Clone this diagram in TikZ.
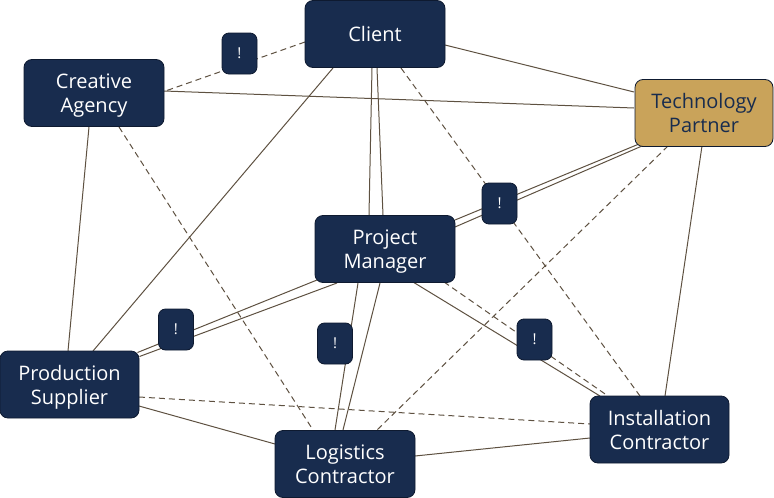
\documentclass[tikz,border=0pt]{standalone}
\usepackage{fontspec}
\setmainfont{Open Sans}
\usetikzlibrary{backgrounds}

\definecolor{navy}{HTML}{182C4E}
\definecolor{gold}{HTML}{C9A35A}
\definecolor{edgebrown}{HTML}{5E5141}
\definecolor{rim}{HTML}{0E1A30}

\tikzset{
	party/.style={draw=rim, line width=0.8pt, fill=navy, text=white, rounded corners=8pt,
		minimum width=140pt, minimum height=67pt, align=center, inner sep=0pt, text depth=0pt,
		font=\fontsize{20}{24}\selectfont},
	lead/.style={party, fill=gold, text=navy},
	flag/.style={draw=rim, line width=0.8pt, fill=navy, text=white, rounded corners=7pt,
		minimum width=35pt, minimum height=41pt, inner sep=0pt,
		font=\fontsize{15}{18}\selectfont},
	tie/.style={draw=edgebrown, line width=1pt},
	risk/.style={tie, dash pattern=on 6pt off 4pt},
}

\begin{document}
\begin{tikzpicture}[x=1pt, y=-1pt]
		\useasboundingbox (0,0) rectangle (774,498);

		% Parties
		\node[party] (client) at (375,34) {Client};
		\node[party] (agency) at (94,93) {Creative\\Agency};
		\node[lead, minimum width=138pt] (tech) at (704,113) {Technology\\Partner};
		\node[party] (pm) at (385,249) {Project\\Manager};
		\node[party, minimum width=139pt] (supplier) at (69.5,384.5) {Production\\Supplier};
		\node[party] (logistics) at (345,464) {Logistics\\Contractor};
		\node[party, minimum width=139pt] (install) at (659.5,429.5) {Installation\\Contractor};

		% Links
		\begin{scope}[on background layer]
			\draw[risk] ([shift={(-70,8)}]client.center) -- ([shift={(70,-1.5)}]agency.center);
			\draw[tie] ([shift={(70,11)}]client.center) -- ([shift={(-70,-21)}]tech.center);
			\draw[tie] ([shift={(70,-2)}]agency.center) -- ([shift={(-70,-5)}]tech.center);
			\draw[tie] ([shift={(-3,34)}]client.center) -- ([shift={(-16,-34)}]pm.center);
			\draw[tie] ([shift={(2,34)}]client.center) -- ([shift={(-2,-34)}]pm.center);
			\draw[tie] ([shift={(-42,34)}]client.center) -- ([shift={(23.5,-33.5)}]supplier.center);
			\draw[risk] ([shift={(26,34)}]client.center) -- ([shift={(-19.5,-33.5)}]install.center);
			\draw[tie] ([shift={(-5,34)}]agency.center) -- ([shift={(-1.5,-33.5)}]supplier.center);
			\draw[risk] ([shift={(25,34)}]agency.center) -- ([shift={(-32,-34)}]logistics.center);
			\draw[tie] ([shift={(70,-29)}]pm.center) -- ([shift={(-65,31)}]tech.center);
			\draw[tie] ([shift={(70,-22)}]pm.center) -- ([shift={(-62,33)}]tech.center);
			\draw[risk] ([shift={(-36,33)}]tech.center) -- ([shift={(32,-34)}]logistics.center);
			\draw[tie] ([shift={(-2,33)}]tech.center) -- ([shift={(5.5,-33.5)}]install.center);
			\draw[tie] ([shift={(-68,31)}]pm.center) -- ([shift={(68,-32)}]supplier.center);
			\draw[tie] ([shift={(-48,34)}]pm.center) -- ([shift={(70,-28)}]supplier.center);
			\draw[tie] ([shift={(-27,34)}]pm.center) -- ([shift={(-10,-34)}]logistics.center);
			\draw[tie] ([shift={(-5,34)}]pm.center) -- ([shift={(-2,-34)}]logistics.center);
			\draw[tie] ([shift={(28,33)}]pm.center) -- ([shift={(-59.5,-33.5)}]install.center);
			\draw[risk] ([shift={(59,33)}]pm.center) -- ([shift={(-51.5,-33.5)}]install.center);
			\draw[risk] ([shift={(69.5,12.5)}]supplier.center) -- ([shift={(-69.5,-5.5)}]install.center);
			\draw[tie] ([shift={(69.5,21.5)}]supplier.center) -- ([shift={(-70,-20)}]logistics.center);
			\draw[tie] ([shift={(70,-8)}]logistics.center) -- ([shift={(-69.5,8.5)}]install.center);
		\end{scope}

		% Conflict flags
		\node[flag] (flagA) at (239.5,53.5) {!};
		\node[flag] (flagB) at (499.5,203.5) {!};
		\node[flag] (flagC) at (176,329.5) {!};
		\node[flag] (flagD) at (335,343.5) {!};
		\node[flag] (flagE) at (534.5,339.5) {!};
\end{tikzpicture}
\end{document}
